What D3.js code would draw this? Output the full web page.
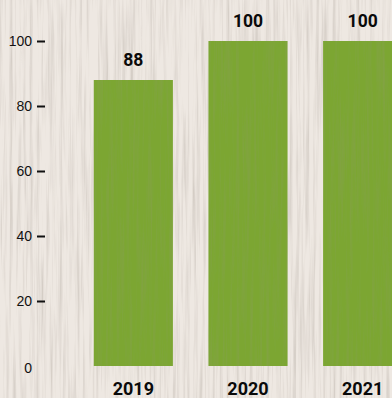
<!DOCTYPE html>
<html>
<head>
<meta charset="utf-8">
<script src="https://cdn.jsdelivr.net/npm/d3@7"></script>
<style>
  html, body { margin: 0; padding: 0; overflow: hidden; background: #ece5de; }
  svg { display: block; }
</style>
</head>
<body>
<svg id="chart" width="392" height="398"></svg>
<script>
var years = ["2019", "2020", "2021"];
var values = [88, 100, 100];
var yTicks = [0, 20, 40, 60, 80, 100];

var svg = d3.select("#chart"),
    width = +svg.attr("width"),
    height = +svg.attr("height");

var defs = svg.append("defs");

// wood grain for the background
var wood = defs.append("filter").attr("id", "wood")
    .attr("x", 0).attr("y", 0).attr("width", "100%").attr("height", "100%");
wood.append("feTurbulence")
    .attr("type", "fractalNoise")
    .attr("baseFrequency", "0.3 0.008")
    .attr("numOctaves", 4)
    .attr("seed", 4)
    .attr("result", "noise");
wood.append("feColorMatrix")
    .attr("in", "noise")
    .attr("type", "matrix")
    .attr("values", "0 0 0 0 0.48  0 0 0 0 0.43  0 0 0 0 0.38  1.2 0 0 0 -0.52")
    .attr("result", "grain");
wood.append("feComposite").attr("in", "grain").attr("in2", "SourceGraphic").attr("operator", "atop");

// darker grain for the bars
var leaf = defs.append("filter").attr("id", "leaf")
    .attr("x", 0).attr("y", 0).attr("width", "100%").attr("height", "100%");
leaf.append("feTurbulence")
    .attr("type", "fractalNoise")
    .attr("baseFrequency", "0.3 0.009")
    .attr("numOctaves", 4)
    .attr("seed", 9)
    .attr("result", "noise");
leaf.append("feColorMatrix")
    .attr("in", "noise")
    .attr("type", "matrix")
    .attr("values", "0 0 0 0 0.25  0 0 0 0 0.35  0 0 0 0 0.08  1.1 0 0 0 -0.5")
    .attr("result", "grain");
leaf.append("feComposite").attr("in", "grain").attr("in2", "SourceGraphic").attr("operator", "atop");

svg.append("rect")
    .attr("width", width).attr("height", height)
    .attr("fill", "#eee8e2")
    .attr("filter", "url(#wood)");

var x = d3.scaleBand().domain(years).range([76, 420]).paddingInner(0.31).paddingOuter(0.155);
var y = d3.scaleLinear().domain([0, 100]).range([366, 41]);

// y axis
var yAxis = svg.append("g")
    .attr("transform", "translate(45,0)")
    .call(d3.axisLeft(y).tickValues(yTicks).tickSize(8).tickPadding(5));
yAxis.select(".domain").remove();
yAxis.selectAll(".tick line").attr("stroke", "#111").attr("stroke-width", 2)
    .attr("display", function(d) { return d === 0 ? "none" : null; });
yAxis.selectAll(".tick text")
    .attr("fill", "#111")
    .style("font-family", "Liberation Sans, Arial, sans-serif")
    .style("font-size", "14px");
yAxis.selectAll(".tick").filter(function(d) { return d === 0; }).select("text")
    .attr("y", 2);

var data = years.map(function(d, i) { return {year: d, value: values[i]}; });

svg.selectAll(".bar")
    .data(data)
  .enter().append("rect")
    .attr("class", "bar")
    .attr("x", function(d) { return x(d.year); })
    .attr("y", function(d) { return y(d.value); })
    .attr("width", x.bandwidth())
    .attr("height", function(d) { return y(0) - y(d.value); })
    .attr("fill", "#7ba632")
    .attr("filter", "url(#leaf)");

svg.selectAll(".value")
    .data(data)
  .enter().append("text")
    .attr("class", "value")
    .attr("x", function(d) { return x(d.year) + x.bandwidth() / 2; })
    .attr("y", function(d) { return y(d.value) - 14.5; })
    .attr("text-anchor", "middle")
    .style("font-family", "Roboto, sans-serif")
    .style("font-weight", "bold")
    .style("font-size", "17.5px")
    .attr("fill", "#0a0a0a")
    .text(function(d) { return d.value; });

svg.selectAll(".year")
    .data(data)
  .enter().append("text")
    .attr("class", "year")
    .attr("x", function(d) { return x(d.year) + x.bandwidth() / 2; })
    .attr("y", 395)
    .attr("text-anchor", "middle")
    .style("font-family", "Roboto, sans-serif")
    .style("font-weight", "bold")
    .style("font-size", "18px")
    .attr("fill", "#0a0a0a")
    .text(function(d) { return d.year; });
</script>
</body>
</html>
